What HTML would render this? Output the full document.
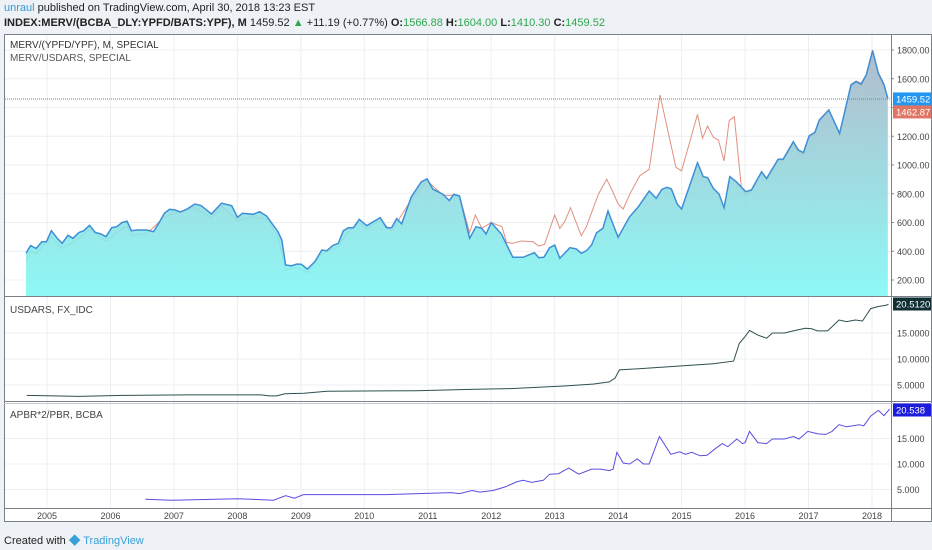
<!DOCTYPE html>
<html><head><meta charset="utf-8"><style>
body{margin:0;width:932px;height:550px;background:#eef1f5;font-family:"Liberation Sans",sans-serif;overflow:hidden;position:relative}
.hdr{position:absolute;left:4px;font-size:11px;color:#222;white-space:nowrap}
</style></head><body>
<div class="hdr" style="top:2px"><span style="color:#2e9bd6">unraul</span> published on TradingView.com, April 30, 2018 13:23 EST</div>
<div class="hdr" style="top:17px"><b>INDEX:MERV/(BCBA_DLY:YPFD/BATS:YPF), M</b> 1459.52 <span style="color:#2ea84f">▲</span> +11.19 (+0.77%) <b>O:</b><span style="color:#2ea84f">1566.88</span> <b>H:</b><span style="color:#2ea84f">1604.00</span> <b>L:</b><span style="color:#2ea84f">1410.30</span> <b>C:</b><span style="color:#2ea84f">1459.52</span></div>
<svg id="chart" width="932" height="550" style="position:absolute;left:0;top:0" font-family="Liberation Sans, sans-serif">
<defs><linearGradient id="fillg" x1="0" y1="0" x2="0" y2="1"><stop offset="0" stop-color="#a8b3c6"/><stop offset="1" stop-color="#7ef8f4"/></linearGradient></defs>
</svg>
<div style="position:absolute;left:4px;top:530px;font-size:11px;color:#222">Created with <span style="color:#3aa0d8;font-size:15px">◆</span> <span style="color:#3aa0d8">TradingView</span></div>
<script>
const yearLabels=[2005,2006,2007,2008,2009,2010,2011,2012,2013,2014,2015,2016,2017,2018];
const mainTicks=[200,400,600,800,1000,1200,1400,1600,1800];
const usdTicks=[5,10,15];
const apbrTicks=[5,10,15];
const blueData=[[2004.67,386],[2004.74,439],[2004.83,420],[2004.92,466],[2004.99,466],[2005.07,543],[2005.16,490],[2005.24,455],[2005.33,511],[2005.41,490],[2005.5,529],[2005.58,543],[2005.67,580],[2005.76,532],[2005.85,520],[2005.93,501],[2006.02,564],[2006.1,571],[2006.18,599],[2006.26,610],[2006.33,543],[2006.42,548],[2006.57,548],[2006.68,536],[2006.76,594],[2006.85,664],[2006.93,692],[2007.02,687],[2007.1,673],[2007.2,692],[2007.33,729],[2007.43,717],[2007.59,659],[2007.75,734],[2007.91,717],[2008.0,636],[2008.08,664],[2008.25,657],[2008.35,675],[2008.46,645],[2008.64,536],[2008.7,478],[2008.76,304],[2008.85,299],[2008.94,311],[2009.01,309],[2009.1,276],[2009.22,327],[2009.33,409],[2009.41,404],[2009.5,439],[2009.59,455],[2009.67,543],[2009.75,564],[2009.83,564],[2009.92,622],[2010.04,578],[2010.25,634],[2010.35,564],[2010.43,564],[2010.51,627],[2010.59,590],[2010.74,779],[2010.9,884],[2010.99,903],[2011.08,833],[2011.24,796],[2011.34,752],[2011.41,796],[2011.5,784],[2011.66,490],[2011.76,571],[2011.85,560],[2011.92,520],[2012.0,599],[2012.16,520],[2012.34,358],[2012.5,358],[2012.68,390],[2012.75,355],[2012.83,358],[2012.92,425],[2013.0,443],[2013.08,351],[2013.24,425],[2013.34,416],[2013.42,386],[2013.5,404],[2013.58,443],[2013.66,529],[2013.76,560],[2013.84,680],[2013.91,599],[2014.0,497],[2014.18,640],[2014.32,710],[2014.49,819],[2014.6,768],[2014.69,831],[2014.77,845],[2014.84,833],[2014.93,729],[2015.0,694],[2015.25,1016],[2015.34,919],[2015.41,912],[2015.5,838],[2015.59,798],[2015.67,703],[2015.76,919],[2015.86,884],[2016.01,814],[2016.1,826],[2016.26,953],[2016.34,907],[2016.52,1040],[2016.6,1040],[2016.76,1162],[2016.84,1104],[2016.92,1086],[2017.01,1204],[2017.1,1227],[2017.17,1313],[2017.32,1383],[2017.49,1220],[2017.67,1557],[2017.75,1580],[2017.83,1563],[2017.91,1626],[2018.01,1795],[2018.1,1638],[2018.19,1557],[2018.25,1464]];
const redData=[[2004.67,340],[2004.74,400],[2004.83,385],[2005.07,500],[2005.24,420],[2005.5,490],[2005.67,550],[2005.93,470],[2006.1,530],[2006.26,575],[2006.33,510],[2006.57,520],[2006.85,640],[2007.02,665],[2007.33,705],[2007.59,630],[2007.75,715],[2008.0,615],[2008.25,640],[2008.46,625],[2008.64,505],[2008.76,270],[2008.94,285],[2009.1,250],[2009.33,380],[2009.59,430],[2009.75,540],[2009.92,600],[2010.04,555],[2010.25,615],[2010.43,540],[2010.74,760],[2010.99,890],[2011.24,790],[2011.41,790],[2011.5,784],[2011.66,530],[2011.75,652],[2011.85,560],[2012.0,599],[2012.17,571],[2012.24,462],[2012.33,455],[2012.48,471],[2012.66,466],[2012.75,436],[2012.84,448],[2013.0,652],[2013.08,560],[2013.16,606],[2013.25,703],[2013.42,508],[2013.5,571],[2013.69,798],[2013.82,901],[2013.91,819],[2014.0,729],[2014.08,694],[2014.19,803],[2014.34,924],[2014.49,970],[2014.66,1487],[2014.77,1266],[2014.91,984],[2015.0,960],[2015.25,1353],[2015.33,1186],[2015.41,1271],[2015.5,1193],[2015.58,1174],[2015.67,1028],[2015.75,1308],[2015.83,1336],[2015.94,849],[2016.01,790],[2016.1,820],[2016.26,945],[2016.34,895],[2016.52,1030],[2016.6,1030],[2016.76,1150],[2016.84,1090],[2016.92,1070],[2017.01,1195],[2017.1,1220],[2017.17,1305],[2017.32,1378],[2017.49,1215],[2017.67,1560],[2017.75,1585],[2017.83,1568],[2017.91,1630],[2018.01,1800],[2018.1,1645],[2018.19,1565],[2018.25,1466]];
const usdYears=[2004.68,2005.1,2005.5,2006.2,2007.2,2008.38,2008.5,2008.62,2008.75,2009.05,2009.41,2010.81,2011.75,2012.3,2013.15,2013.62,2013.86,2013.95,2014.02,2014.56,2015.03,2015.5,2015.82,2015.91,2016.0,2016.07,2016.2,2016.34,2016.43,2016.62,2016.76,2016.95,2017.05,2017.14,2017.3,2017.37,2017.48,2017.6,2017.74,2017.85,2017.98,2018.1,2018.21,2018.26];
const usdVals=[3.0,2.9,2.8,3.0,3.1,3.1,2.9,2.9,3.3,3.4,3.8,3.9,4.2,4.3,4.8,5.2,5.6,6.3,7.9,8.3,8.7,9.1,9.6,13.0,14.3,15.5,14.6,14.0,15.0,15.0,15.4,15.9,15.8,15.4,15.4,16.2,17.5,17.2,17.5,17.3,19.7,20.1,20.3,20.5];
const apbrYears=[2006.55,2006.97,2008.0,2008.57,2008.76,2008.9,2009.04,2009.4,2010.35,2010.85,2011.37,2011.5,2011.7,2011.82,2012.03,2012.22,2012.4,2012.5,2012.64,2012.82,2012.92,2013.06,2013.22,2013.38,2013.58,2013.72,2013.86,2013.92,2013.98,2014.08,2014.18,2014.3,2014.4,2014.49,2014.65,2014.83,2014.97,2015.06,2015.16,2015.29,2015.4,2015.54,2015.64,2015.73,2015.87,2015.96,2016.0,2016.07,2016.2,2016.34,2016.43,2016.62,2016.76,2016.85,2016.99,2017.15,2017.27,2017.37,2017.48,2017.6,2017.8,2017.87,2017.98,2018.1,2018.19,2018.28];
const apbrVals=[3.07,2.9,3.2,2.9,3.8,3.3,4.0,4.0,4.0,4.2,4.4,4.2,4.8,4.5,4.8,5.5,6.5,6.8,6.4,6.8,8.0,8.1,9.2,8.0,9.0,9.0,8.7,9.0,12.3,10.2,10.0,11.0,10.0,10.0,15.4,11.9,12.4,11.9,12.3,11.6,11.7,13.1,14.0,13.4,14.9,14.0,14.2,16.4,14.2,14.0,14.9,14.9,15.4,14.9,16.4,15.9,15.8,16.4,17.7,17.3,17.7,17.5,19.4,20.5,19.5,20.8];

const svg=document.getElementById('chart');const NS='http://www.w3.org/2000/svg';
function mk(tag,attrs,parent){const e=document.createElementNS(NS,tag);for(const k in attrs)e.setAttribute(k,attrs[k]);(parent||svg).appendChild(e);return e;}
const X=y=>47+(y-2005)*63.46;
const Ym=v=>50+(1800-v)*0.14375;
const Yu=v=>359-(v-10)*5.2;
const Ya=v=>464-(v-10)*5.1;
const L=5,R=891;
let bg=mk('rect',{x:4,y:34,width:928,height:488,fill:'#fff'});


yearLabels.forEach(yr=>{let g=mk('line',{x1:X(yr),x2:X(yr),y1:34,y2:508,stroke:'#eceff2','stroke-width':1});

});
mainTicks.forEach(v=>{let g=mk('line',{x1:L,x2:R,y1:Ym(v),y2:Ym(v),stroke:'#eceff2'});


let t=mk('text',{x:897,y:Ym(v)+3.5,'font-size':9,fill:'#444'});t.textContent=v.toFixed(2);


mk('line',{x1:R,x2:R+3,y1:Ym(v),y2:Ym(v),stroke:'#888'});});
usdTicks.forEach(v=>{let g=mk('line',{x1:L,x2:R,y1:Yu(v),y2:Yu(v),stroke:'#eceff2'});


let t=mk('text',{x:897,y:Yu(v)+3.5,'font-size':9,fill:'#444'});t.textContent=v.toFixed(4);

});
apbrTicks.forEach(v=>{let g=mk('line',{x1:L,x2:R,y1:Ya(v),y2:Ya(v),stroke:'#eceff2'});


let t=mk('text',{x:897,y:Ya(v)+3.5,'font-size':9,fill:'#444'});t.textContent=v.toFixed(3);

});
yearLabels.forEach(yr=>{let t=mk('text',{x:X(yr),y:519,'font-size':9,fill:'#444','text-anchor':'middle'});t.textContent=yr;

});
let rp=redData.map(d=>X(d[0]).toFixed(1)+','+Ym(d[1]).toFixed(1)).join(' ');
let red=mk('polyline',{points:rp,fill:'none',stroke:'#e0907f','stroke-width':1});


let bp=blueData.map(d=>X(d[0]).toFixed(1)+','+Ym(d[1]).toFixed(1)).join(' ');
let area=mk('polygon',{points:X(blueData[0][0])+',296 '+bp+' '+X(blueData[blueData.length-1][0])+',296',fill:'url(#fillg)','fill-opacity':0.88});


let bl=mk('polyline',{points:bp,fill:'none',stroke:'#3d8fd6','stroke-width':1.5});


let ul=mk('polyline',{points:usdYears.map((y,i)=>X(y).toFixed(1)+','+Yu(usdVals[i]).toFixed(1)).join(' '),fill:'none',stroke:'#2f4f4f','stroke-width':1});


let al=mk('polyline',{points:apbrYears.map((y,i)=>X(y).toFixed(1)+','+Ya(apbrVals[i]).toFixed(1)).join(' '),fill:'none',stroke:'#5a4de0','stroke-width':1});


let pl=mk('line',{x1:L,x2:R,y1:Ym(1459.52),y2:Ym(1459.52),stroke:'#2196f3','stroke-dasharray':'1,1'});


let fr=mk('rect',{x:4.5,y:34.5,width:927,height:487,fill:'none',stroke:'#7a8088'});


mk('line',{x1:R+.5,x2:R+.5,y1:34,y2:522,stroke:'#7a8088'});
mk('line',{x1:4,x2:932,y1:296.5,y2:296.5,stroke:'#7a8088'});
mk('line',{x1:4,x2:932,y1:401.5,y2:401.5,stroke:'#7a8088'});
mk('line',{x1:4,x2:932,y1:403.5,y2:403.5,stroke:'#c8ccd0'});
mk('line',{x1:4,x2:932,y1:508.5,y2:508.5,stroke:'#7a8088'});
function badge(y,txt,bgc,name){let g=mk('g',{});
mk('rect',{x:R+2,y:y-6.5,width:38,height:13,fill:bgc},g);let t=mk('text',{x:R+5,y:y+3.5,'font-size':9.5,fill:'#fff'},g);t.textContent=txt;}
badge(Ym(1459.52),'1459.52','#2196f3','last-price-badge');
badge(Ym(1459.52)+13,'1462.87','#e07563','merv-usdars-badge');
badge(304,'20.5120','#0f2f33','usdars-badge');
badge(410,'20.538','#1c1cdc','apbr-badge');
function lab(x,y,txt,c,name){let t=mk('text',{x:x,y:y,'font-size':10,fill:c});t.textContent=txt;

}
lab(10,48,'MERV/(YPFD/YPF), M, SPECIAL','#333','main-series-legend');
lab(10,61,'MERV/USDARS, SPECIAL','#555','second-series-legend');
lab(10,313,'USDARS, FX_IDC','#444','usdars-legend');
lab(10,418,'APBR*2/PBR, BCBA','#444','apbr-legend');
</script>
</body></html>
